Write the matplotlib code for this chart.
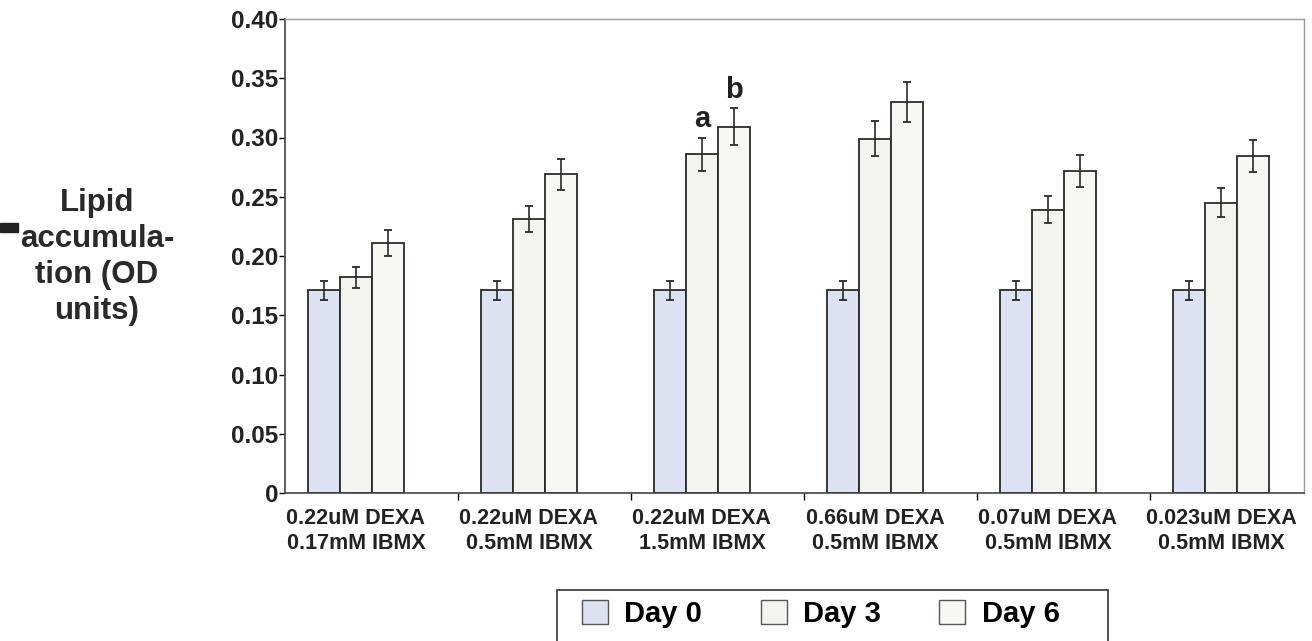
import matplotlib
matplotlib.use('Agg')
import matplotlib.pyplot as plt
from matplotlib.patches import Patch, Rectangle
import numpy as np

plt.rcParams['font.family'] = ['Liberation Sans', 'DejaVu Sans']
plt.rcParams['font.weight'] = 'bold'

# donnees
categories = ['0.22uM DEXA\n0.17mM IBMX', '0.22uM DEXA\n0.5mM IBMX', '0.22uM DEXA\n1.5mM IBMX',
              '0.66uM DEXA\n0.5mM IBMX', '0.07uM DEXA\n0.5mM IBMX', '0.023uM DEXA\n0.5mM IBMX']
day0 = [0.171, 0.171, 0.171, 0.171, 0.171, 0.171]
day0_err = [0.008, 0.008, 0.008, 0.008, 0.008, 0.008]
day3 = [0.182, 0.231, 0.286, 0.299, 0.239, 0.245]
day3_err = [0.009, 0.011, 0.014, 0.015, 0.0115, 0.0125]
day6 = [0.211, 0.269, 0.309, 0.330, 0.272, 0.284]
day6_err = [0.011, 0.013, 0.0155, 0.0165, 0.0135, 0.0135]
yticks = [0, 0.05, 0.10, 0.15, 0.20, 0.25, 0.30, 0.35, 0.40]
yticklabels = ['0', '0.05', '0.10', '0.15', '0.20', '0.25', '0.30', '0.35', '0.40']
legend_labels = ['Day 0', 'Day 3', 'Day 6']
couleurs = ['#dde2f3', '#f3f3ef', '#f7f8f4']

fig = plt.figure(figsize=(13.12, 6.41), dpi=100)
ax = fig.add_axes([285/1312, 1 - 493/641, (1304 - 285)/1312, (493 - 19)/641])

x = np.arange(len(categories)) - 0.09
w = 0.185
err_style = dict(ecolor='#2a2a2a', elinewidth=1.2, capsize=3.2, capthick=1.3)
ax.bar(x - w, day0, w, yerr=day0_err, color=couleurs[0], edgecolor='#2a2a2a', linewidth=1.3, error_kw=err_style)
ax.bar(x, day3, w, yerr=day3_err, color=couleurs[1], edgecolor='#2a2a2a', linewidth=1.3, error_kw=err_style)
ax.bar(x + w, day6, w, yerr=day6_err, color=couleurs[2], edgecolor='#2a2a2a', linewidth=1.3, error_kw=err_style)

# lettres a et b au dessus du groupe 3
ax.text(x[2], day3[2] + day3_err[2] + 0.009, 'a', ha='center', va='baseline', fontsize=21, fontweight='bold', color='#222222')
ax.text(x[2] + w, day6[2] + day6_err[2] + 0.009, 'b', ha='center', va='baseline', fontsize=21, fontweight='bold', color='#222222')

ax.set_xlim(-0.5, (1304 - 285)/173 - 0.5)
ax.set_ylim(0, 0.40)
ax.set_yticks(yticks)
ax.set_yticklabels(yticklabels, fontsize=17.5, fontweight='bold', color='#222222')
ax.tick_params(axis='y', direction='out', length=4, width=1, pad=1)

ax.set_xticks(x)
ax.set_xticklabels(categories, fontsize=15.5, fontweight='bold', color='#222222', linespacing=1.25)
ax.set_xticks(np.arange(0.5, len(categories) - 0.5, 1), minor=True)
ax.tick_params(axis='x', which='major', length=0, pad=11)
ax.tick_params(axis='x', which='minor', direction='out', length=5, width=1)

for s in ['top', 'right']:
    ax.spines[s].set_color('#9a9a9a')
    ax.spines[s].set_linewidth(1)
for s in ['left', 'bottom']:
    ax.spines[s].set_color('#444444')
    ax.spines[s].set_linewidth(1.2)

fig.text(97/1312, 1 - 257/641, 'Lipid\naccumula-\ntion (OD\nunits)', ha='center', va='center',
         fontsize=22.5, fontweight='bold', linespacing=1.27, color='#2a2a2a')
# petit trait noir a gauche (present sur l'original)
fig.patches.append(Rectangle((0, 1 - 232/641), 18/1312, 9/641, transform=fig.transFigure, color='#222222'))

# cadre de la legende (coupe en bas comme sur l'original)
fig.patches.append(Rectangle((557/1312, -0.02), (1108 - 557)/1312, (641 - 590)/641 + 0.02,
                             transform=fig.transFigure, fill=False, edgecolor='#333333', linewidth=1.2))
handles = [Patch(facecolor=c, edgecolor='#555555', linewidth=1) for c in couleurs]
leg = fig.legend(handles, legend_labels, loc='upper left', bbox_to_anchor=(572/1312, 1 - 590/641),
                 ncol=3, frameon=False, prop={'size': 21, 'weight': 'bold'},
                 handlelength=0.9, handleheight=0.9, columnspacing=2.0, handletextpad=0.55,
                 borderpad=0.35, borderaxespad=0)

plt.savefig('out.png', dpi=100)
